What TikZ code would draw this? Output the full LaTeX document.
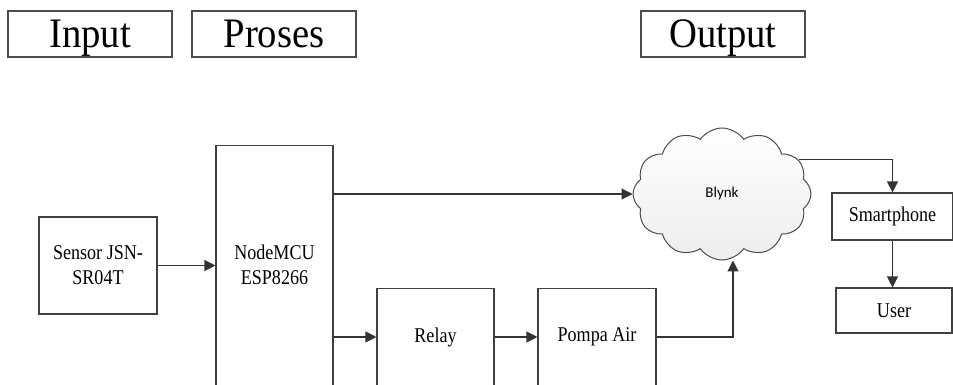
\documentclass[tikz,border=0pt]{standalone}
\usepackage{fontspec}
\setmainfont{Liberation Serif}
\newfontfamily\judulfont{Liberation Serif}[FakeStretch=0.92]
\newfontfamily\isifont{Liberation Serif}[FakeStretch=0.86]
\newfontfamily\awanfont{Carlito}
\usetikzlibrary{arrows.meta,shapes.symbols}
\tikzset{
  judul/.style={draw=black!70, line width=1.3pt, minimum width=164pt, minimum height=46pt, inner sep=0pt,
    text depth=0pt, font=\judulfont\fontsize{42}{46}\selectfont},
  blok/.style={draw=black!75, line width=1.1pt, fill=white, inner sep=0pt},
  teks/.style={align=center, inner sep=0pt, font=\isifont\fontsize{21}{25}\selectfont},
  awan/.style={cloud, cloud puffs=12, cloud puff arc=110, draw=black!70, line width=1pt,
    top color=white, bottom color=black!7, minimum width=178pt, minimum height=132pt, inner sep=0pt,
    font=\awanfont\fontsize{15}{18}\selectfont},
  panah/.style={draw=black!80, line width=1.1pt, -{Triangle[length=11pt,width=11pt]}},
}
\begin{document}
\begin{tikzpicture}[x=1pt,y=-1pt]
    \useasboundingbox (0,0) rectangle (953,385);
    \node[judul] (input) at (90,34) {Input};
    \node[judul] (proses) at (274,34) {Proses};
    \node[judul] (output) at (723,34) {Output};
    \node[blok,teks,minimum width=118pt,minimum height=97pt] (sensor) at (98,265.5) {Sensor JSN-\\SR04T};
    \node[blok,minimum width=117pt,minimum height=260pt,anchor=north] (mcu) at (274.5,145) {};
    \node[teks] (mcuT) at (274.5,265) {NodeMCU\\ESP8266};
    \node[blok,minimum width=117pt,minimum height=110pt,anchor=north] (relay) at (435.5,288) {};
    \node[teks] (relayT) at (435.5,337) {Relay};
    \node[blok,minimum width=118pt,minimum height=110pt,anchor=north] (pompa) at (597,288) {};
    \node[teks] (pompaT) at (597,337) {Pompa Air};
    \node[awan] (blynk) at (722,194) {Blynk};
    \node[blok,teks,minimum width=121pt,minimum height=47pt] (hp) at (892.5,216.5) {Smartphone};
    \node[blok,teks,minimum width=116pt,minimum height=45pt] (user) at (894,310.5) {User};
    \draw[panah] (sensor.east) -- (sensor -| mcu.west);
    \draw[panah] (mcu.east |- blynk.west) -- (blynk.west);
    \draw[panah] (mcu.east |- relayT) -- (relayT -| relay.west);
    \draw[panah] (relayT -| relay.east) -- (relayT -| pompa.west);
    \draw[panah] (pompaT -| pompa.east) -| ([xshift=11pt]blynk.south);
    \draw[panah] (blynk.24) -| (hp.north);
    \draw[panah] (hp.south) -- (hp.south |- user.north);
\end{tikzpicture}
\end{document}
